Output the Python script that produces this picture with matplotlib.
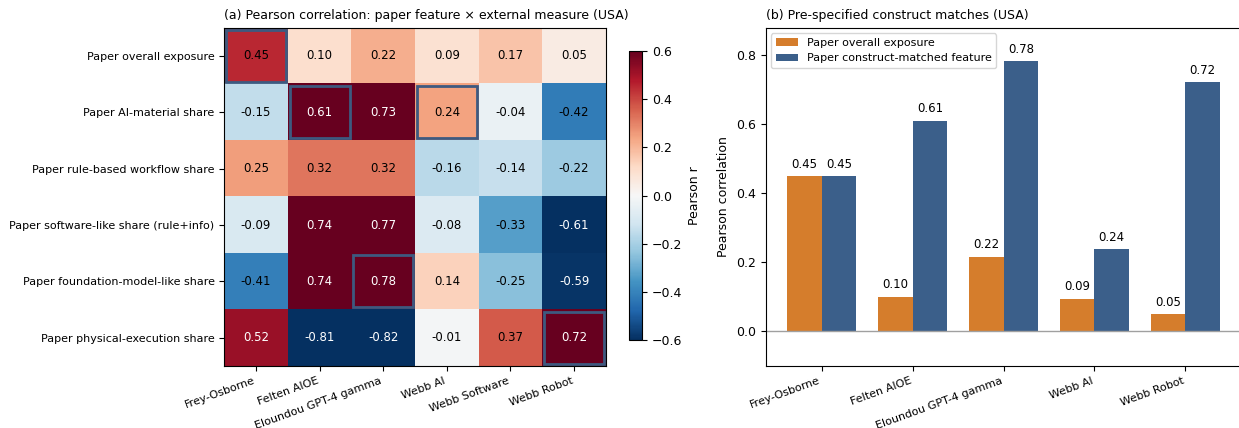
import numpy as np
import matplotlib
matplotlib.use("Agg")
import matplotlib.pyplot as plt
from matplotlib.patches import Rectangle

# heatmap data
row_labels = ["Paper overall exposure", "Paper AI-material share",
              "Paper rule-based workflow share", "Paper software-like share (rule+info)",
              "Paper foundation-model-like share", "Paper physical-execution share"]
col_labels = ["Frey-Osborne", "Felten AIOE", "Eloundou GPT-4 gamma",
              "Webb AI", "Webb Software", "Webb Robot"]
corr = np.array([
    [0.45, 0.10, 0.22, 0.09, 0.17, 0.05],
    [-0.15, 0.61, 0.73, 0.24, -0.04, -0.42],
    [0.25, 0.32, 0.32, -0.16, -0.14, -0.22],
    [-0.09, 0.74, 0.77, -0.08, -0.33, -0.61],
    [-0.41, 0.74, 0.78, 0.14, -0.25, -0.59],
    [0.52, -0.81, -0.82, -0.01, 0.37, 0.72],
])
# (row, col) of the pre-specified matches
matches = [(0, 0), (1, 1), (1, 3), (4, 2), (5, 5)]

# bar chart data
bar_labels = ["Frey-Osborne", "Felten AIOE", "Eloundou GPT-4 gamma", "Webb AI", "Webb Robot"]
overall = [0.45, 0.10, 0.217, 0.094, 0.05]
matched = [0.45, 0.61, 0.783, 0.238, 0.722]

c_orange = "#d57d2c"
c_blue = "#3b5f8a"
c_box = "#3d5a80"

fig = plt.figure(figsize=(12.39, 4.28), dpi=100)
ax1 = fig.add_axes([0.181, 0.145, 0.308, 0.79])
cax = fig.add_axes([0.508, 0.2056, 0.0105, 0.675])
ax2 = fig.add_axes([0.618, 0.145, 0.384, 0.79])

im = ax1.imshow(corr, cmap="RdBu_r", vmin=-0.6, vmax=0.6, aspect="auto")
for i in range(corr.shape[0]):
    for j in range(corr.shape[1]):
        v = corr[i, j]
        ax1.text(j, i, "%.2f" % v, ha="center", va="center", fontsize=8.5,
                 color="white" if abs(v) > 0.5 else "black")
for (i, j) in matches:
    ax1.add_patch(Rectangle((j - 0.47, i - 0.46), 0.94, 0.92, fill=False,
                            edgecolor=c_box, lw=2))
ax1.set_xticks(range(len(col_labels)))
ax1.set_xticklabels(col_labels, rotation=20, ha="right", fontsize=8)
ax1.set_yticks(range(len(row_labels)))
ax1.set_yticklabels(row_labels, fontsize=8)
ax1.set_title("(a) Pearson correlation: paper feature \u00d7 external measure (USA)",
              fontsize=9, loc="left")

cb = fig.colorbar(im, cax=cax, ticks=[-0.6, -0.4, -0.2, 0.0, 0.2, 0.4, 0.6])
cb.set_label("Pearson r", fontsize=9)
cb.ax.tick_params(labelsize=9)

x = np.arange(len(bar_labels))
w = 0.38
b1 = ax2.bar(x - w / 2, overall, w, color=c_orange, label="Paper overall exposure")
b2 = ax2.bar(x + w / 2, matched, w, color=c_blue, label="Paper construct-matched feature")
ax2.bar_label(b1, fmt="%.2f", padding=4, fontsize=8.5)
ax2.bar_label(b2, fmt="%.2f", padding=4, fontsize=8.5)
ax2.axhline(0, color="#a0a0a0", lw=1)
ax2.set_ylim(-0.1, 0.88)
ax2.set_xticks(x)
ax2.set_xticklabels(bar_labels, rotation=20, ha="right", fontsize=8)
ax2.tick_params(axis="y", labelsize=9)
ax2.set_ylabel("Pearson correlation", fontsize=9)
ax2.set_title("(b) Pre-specified construct matches (USA)", fontsize=9, loc="left")
ax2.legend(loc="upper left", fontsize=8)

fig.savefig("out.png", dpi=100)
